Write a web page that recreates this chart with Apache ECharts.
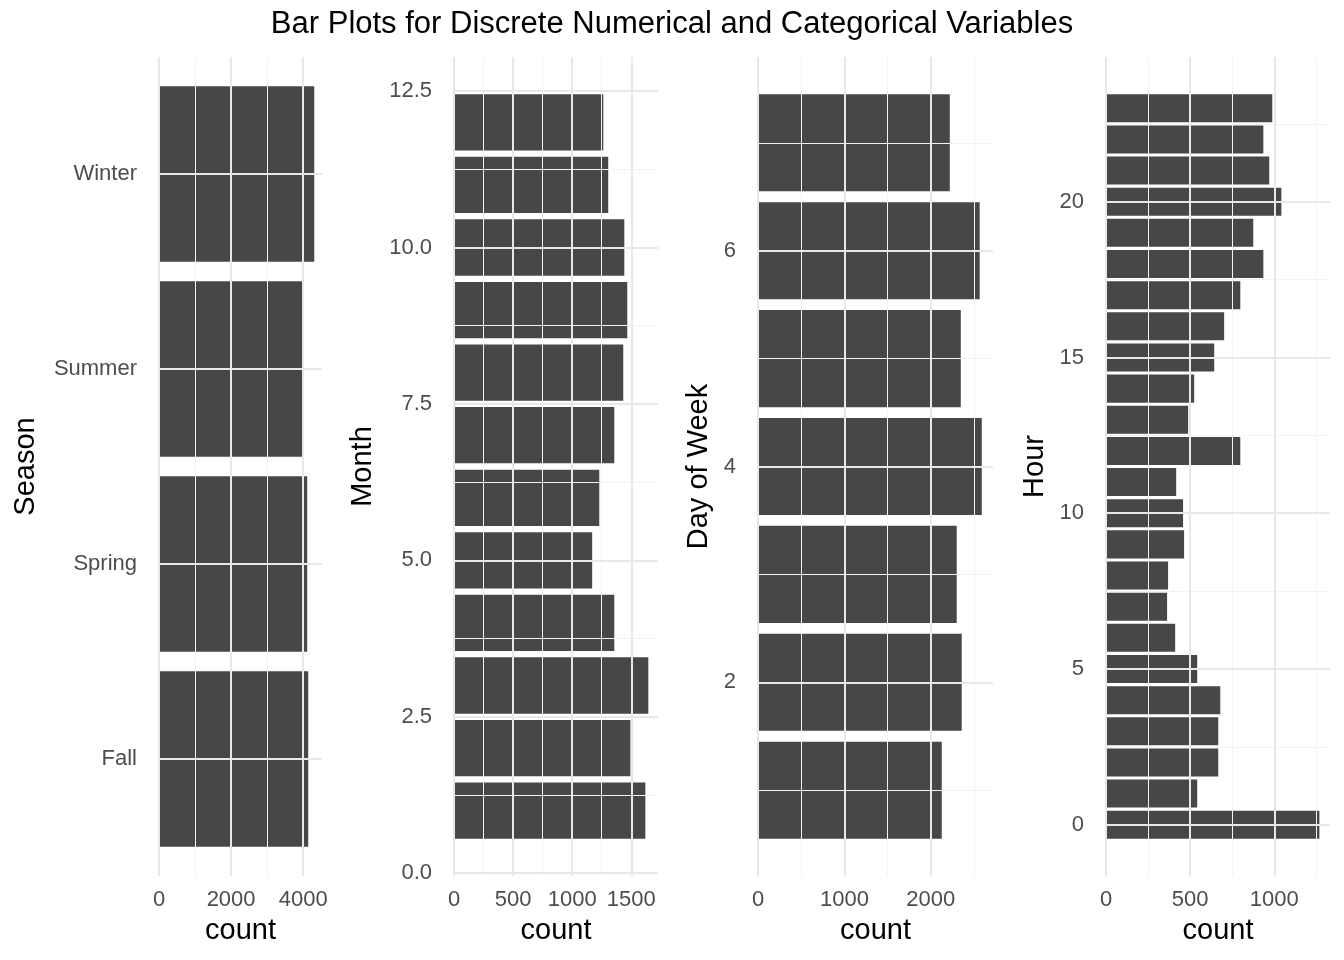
<!DOCTYPE html>
<html><head><meta charset="utf-8">
<script src="https://cdn.jsdelivr.net/npm/echarts@6/dist/echarts.min.js"></script>
<style>html,body{margin:0;background:#fff}#chart{width:1344px;height:960px}</style>
</head><body><div id="chart"></div>
<script>
const seasons = ['Fall', 'Spring', 'Summer', 'Winter'];
const seasonCounts = [4139, 4111, 3972, 4306];
const months = [1, 2, 3, 4, 5, 6, 7, 8, 9, 10, 11, 12];
const monthCounts = [1619, 1492, 1644, 1356, 1169, 1229, 1356, 1432, 1466, 1441, 1305, 1263];
const days = [1, 2, 3, 4, 5, 6, 7];
const dayCounts = [2127, 2358, 2300, 2590, 2347, 2566, 2220];
const hours = [0, 1, 2, 3, 4, 5, 6, 7, 8, 9, 10, 11, 12, 13, 14, 15, 16, 17, 18, 19, 20, 21, 22, 23];
const hourCounts = [1268, 542, 667, 667, 679, 542, 411, 363, 369, 464, 458, 417,
  798, 488, 524, 643, 702, 798, 935, 875, 1042, 970, 935, 988];

const panels = [
  { left: 159, right: 322, xmax: 4521, ymin: 0.4, ymax: 4.6, cats: [1, 2, 3, 4], vals: seasonCounts,
    xMaj: [0, 2000, 4000], xMin: [1000, 3000], yMaj: [1, 2, 3, 4], yMin: [],
    yFmt: v => seasons[Math.round(v) - 1], name: 'Season', gap: 119 },
  { left: 454, right: 658, xmax: 1726, ymin: -0.045, ymax: 13.045, cats: months, vals: monthCounts,
    xMaj: [0, 500, 1000, 1500], xMin: [250, 750, 1250], yMaj: [0, 2.5, 5, 7.5, 10, 12.5], yMin: [1.25, 3.75, 6.25, 8.75, 11.25],
    yFmt: v => v.toFixed(1), name: 'Month', gap: 77 },
  { left: 758, right: 993, xmax: 2720, ymin: 0.205, ymax: 7.795, cats: days, vals: dayCounts,
    xMaj: [0, 1000, 2000], xMin: [500, 1500, 2500], yMaj: [2, 4, 6], yMin: [1, 3, 5, 7],
    yFmt: v => String(v), name: 'Day of Week', gap: 45 },
  { left: 1106, right: 1330, xmax: 1331, ymin: -1.645, ymax: 24.645, cats: hours, vals: hourCounts,
    xMaj: [0, 500, 1000], xMin: [250, 750, 1250], yMaj: [0, 5, 10, 15, 20], yMin: [2.5, 7.5, 12.5, 17.5, 22.5],
    yFmt: v => String(v), name: 'Hour', gap: 57 }
];

const chart = echarts.init(document.getElementById('chart'));
const grid = [], xAxis = [], yAxis = [], series = [];
const font = 'Liberation Sans, Arial';
const labelStyle = { color: '#4d4d4d', fontSize: 22, fontFamily: font };
const nameStyle = { color: '#000', fontSize: 29, fontFamily: font };

function renderBar(params, api) {
  const v = api.value(0), c = api.value(1);
  const p0 = api.coord([0, c]);
  const p1 = api.coord([v, c]);
  const h = api.size([0, 0.9])[1];
  return { type: 'rect', shape: { x: p0[0], y: p0[1] - h / 2, width: p1[0] - p0[0], height: h },
    style: { fill: '#474747' } };
}

panels.forEach((p, i) => {
  grid.push({ left: p.left, width: p.right - p.left, top: 57, height: 819 });
  xAxis.push({ type: 'value', gridIndex: i, min: 0, max: p.xmax,
    axisLine: { show: false }, axisTick: { show: false }, splitLine: { show: false },
    axisLabel: Object.assign({ customValues: p.xMaj, interval: 0, margin: 13, formatter: v => String(v) }, labelStyle),
    name: 'count', nameLocation: 'middle', nameGap: 40, nameTextStyle: nameStyle });
  yAxis.push({ type: 'value', gridIndex: i, min: p.ymin, max: p.ymax,
    axisLine: { show: false }, axisTick: { show: false }, splitLine: { show: false },
    axisLabel: Object.assign({ customValues: p.yMaj, interval: 0, margin: 22, formatter: p.yFmt }, labelStyle),
    name: p.name, nameLocation: 'middle', nameGap: p.gap, nameRotate: 90, nameTextStyle: nameStyle });
  const lines = [];
  p.xMin.forEach(v => lines.push({ xAxis: v, lineStyle: { color: '#f3f3f3', width: 1, type: 'solid' } }));
  p.yMin.forEach(v => lines.push({ yAxis: v, lineStyle: { color: '#f3f3f3', width: 1, type: 'solid' } }));
  p.xMaj.forEach(v => lines.push({ xAxis: v, lineStyle: { color: '#e8e8e8', width: 2, type: 'solid' } }));
  p.yMaj.forEach(v => lines.push({ yAxis: v, lineStyle: { color: '#e8e8e8', width: 2, type: 'solid' } }));
  series.push({ type: 'scatter', xAxisIndex: i, yAxisIndex: i, data: [], z: 0, silent: true,
    markLine: { silent: true, symbol: 'none', label: { show: false }, animation: false, data: lines } });
  series.push({ type: 'custom', xAxisIndex: i, yAxisIndex: i, z: 2, renderItem: renderBar,
    encode: { x: 0, y: 1 },
    data: p.cats.map((c, k) => [p.vals[k], c]) });
});

chart.setOption({
  animation: false,
  title: { text: 'Bar Plots for Discrete Numerical and Categorical Variables', left: 'center', top: 4,
    textStyle: { color: '#000', fontSize: 31, fontWeight: 'normal', fontFamily: font } },
  grid, xAxis, yAxis, series
});
</script></body></html>
